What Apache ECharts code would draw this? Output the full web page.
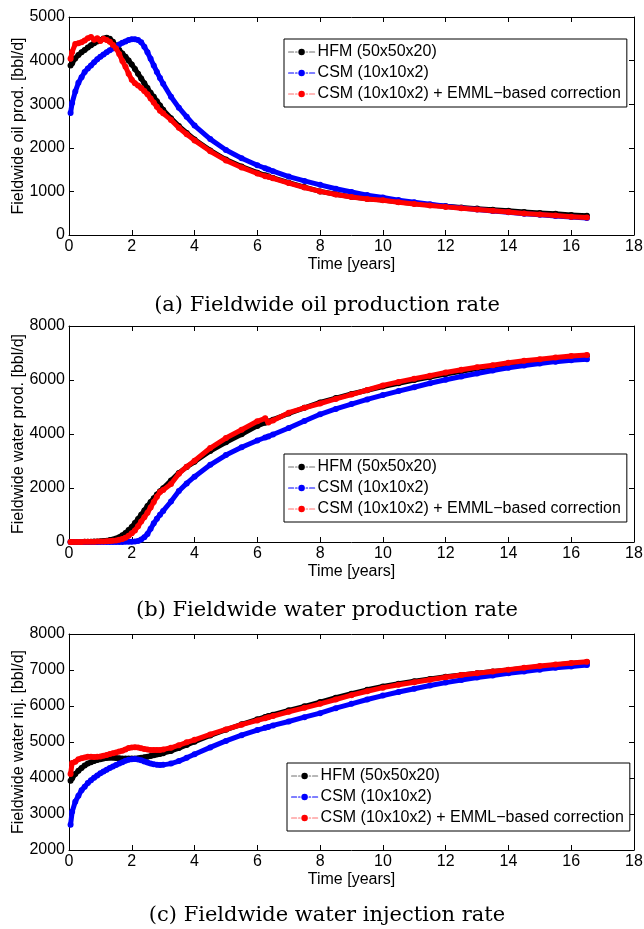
<!DOCTYPE html>
<html>
<head>
<meta charset="utf-8">
<title>Fieldwide rates</title>
<script src="https://cdn.jsdelivr.net/npm/echarts@6/dist/echarts.min.js"></script>
<style>
  html, body { margin: 0; padding: 0; background: #fff; }
  #chart { width: 644px; height: 929px; }
</style>
</head>
<body>
<div id="chart"></div>
<script>
// Simulation report times [years]
const years = [
  0.05, 0.1, 0.2, 0.3, 0.4, 0.5, 0.6, 0.7, 0.8, 0.9,
  1.0, 1.1, 1.2, 1.3, 1.4, 1.5, 1.6, 1.7, 1.8, 1.9,
  2.0, 2.1, 2.2, 2.3, 2.4, 2.5, 2.6, 2.7, 2.8, 2.9,
  3.0, 3.25, 3.5, 3.75, 4.0, 4.5, 5.0, 5.5, 6.0, 6.25,
  6.35, 6.5, 7.0, 7.5, 8.0, 8.5, 9.0, 9.5, 10.0, 10.5,
  11.0, 11.5, 12.0, 12.5, 13.0, 13.5, 14.0, 14.5, 15.0, 15.5,
  16.0, 16.5
];

const seriesNames = ['HFM (50x50x20)', 'CSM (10x10x2)', 'CSM (10x10x2) + EMML\u2212based correction'];

// (a) Fieldwide oil production rate [bbl/d]
const oilHFM = [
  3890, 3940, 4050, 4130, 4190, 4245, 4300, 4350, 4400, 4440,
  4475, 4505, 4525, 4500, 4430, 4340, 4245, 4160, 4090, 4000,
  3910, 3810, 3700, 3590, 3480, 3370, 3260, 3170, 3070, 2970,
  2870, 2680, 2500, 2340, 2190, 1940, 1730, 1570, 1430, 1370,
  1345, 1310, 1200, 1100, 1000, 935, 875, 830, 800, 755,
  720, 690, 660, 630, 605, 580, 555, 530, 505, 485,
  460, 440
];
const oilCSM = [
  2800, 3030, 3290, 3490, 3620, 3740, 3820, 3890, 3960, 4030,
  4090, 4140, 4190, 4240, 4280, 4320, 4370, 4410, 4440, 4470,
  4490, 4490, 4470, 4420, 4320, 4190, 4040, 3890, 3740, 3600,
  3470, 3170, 2920, 2710, 2510, 2200, 1950, 1760, 1600, 1530,
  1505, 1465, 1340, 1240, 1150, 1060, 985, 915, 860, 800,
  750, 705, 660, 620, 585, 550, 520, 490, 462, 438,
  412, 392
];
const oilCorr = [
  4040, 4200, 4380, 4400, 4420, 4460, 4510, 4540, 4480, 4510,
  4450, 4500, 4470, 4430, 4360, 4280, 4150, 3990, 3860, 3700,
  3560, 3480, 3430, 3370, 3300, 3230, 3130, 3040, 2940, 2850,
  2790, 2640, 2460, 2310, 2170, 1920, 1710, 1550, 1410, 1350,
  1335, 1300, 1190, 1090, 1000, 930, 870, 825, 795, 750,
  710, 675, 645, 615, 585, 555, 525, 495, 470, 445,
  420, 400
];

// (b) Fieldwide water production rate [bbl/d]
const wprodHFM = [
  0, 0, 0, 2, 4, 6, 8, 10, 14, 18,
  25, 35, 50, 70, 95, 130, 180, 250, 330, 440,
  560, 700, 850, 1010, 1170, 1330, 1480, 1620, 1760, 1880,
  1990, 2280, 2560, 2780, 2970, 3370, 3690, 3990, 4300, 4420,
  4460, 4530, 4760, 4970, 5170, 5330, 5480, 5620, 5760, 5880,
  6000, 6110, 6220, 6320, 6420, 6510, 6590, 6660, 6730, 6790,
  6850, 6900
];
const wprodCSM = [
  0, 0, 0, 0, 0, 0, 0, 0, 0, 0,
  0, 0, 0, 0, 0, 0, 2, 4, 6, 8,
  10, 15, 40, 90, 180, 300, 490, 690, 860, 1010,
  1150, 1500, 1890, 2170, 2420, 2860, 3220, 3510, 3760, 3870,
  3910, 3980, 4220, 4480, 4730, 4930, 5110, 5280, 5440, 5590,
  5730, 5880, 6010, 6130, 6240, 6350, 6450, 6540, 6610, 6680,
  6730, 6770
];
const wprodCorr = [
  0, 0, 0, 2, 4, 6, 8, 10, 12, 15,
  18, 22, 28, 35, 45, 60, 85, 115, 160, 230,
  320, 430, 580, 760, 920, 1080, 1280, 1480, 1680, 1850,
  1930, 2150, 2530, 2790, 3010, 3480, 3850, 4160, 4470, 4580,
  4430, 4500, 4790, 4970, 5130, 5300, 5460, 5630, 5800, 5930,
  6050, 6160, 6280, 6380, 6470, 6550, 6640, 6710, 6770, 6830,
  6890, 6930
];

// (c) Fieldwide water injection rate [bbl/d]
const winjHFM = [
  3925, 3990, 4110, 4200, 4280, 4350, 4400, 4440, 4470, 4500,
  4520, 4540, 4555, 4560, 4560, 4555, 4550, 4545, 4540, 4540,
  4540, 4545, 4550, 4560, 4575, 4590, 4610, 4630, 4650, 4670,
  4690, 4750, 4830, 4920, 5010, 5180, 5340, 5490, 5630, 5695,
  5720, 5760, 5880, 5990, 6110, 6230, 6340, 6450, 6540, 6620,
  6690, 6750, 6810, 6860, 6910, 6960, 7000, 7050, 7090, 7140,
  7180, 7215
];
const winjCSM = [
  2700, 3060, 3340, 3510, 3660, 3760, 3860, 3940, 4010, 4070,
  4130, 4180, 4230, 4280, 4320, 4360, 4400, 4440, 4480, 4505,
  4520, 4525, 4515, 4490, 4460, 4430, 4400, 4380, 4365, 4360,
  4365, 4400, 4470, 4560, 4660, 4850, 5030, 5190, 5330, 5395,
  5420, 5460, 5570, 5690, 5800, 5940, 6060, 6180, 6290, 6390,
  6480, 6570, 6650, 6720, 6790, 6850, 6910, 6960, 7010, 7060,
  7100, 7140
];
const winjCorr = [
  4110, 4420, 4450, 4520, 4550, 4570, 4590, 4590, 4585, 4590,
  4600, 4620, 4640, 4665, 4690, 4710, 4735, 4760, 4795, 4830,
  4850, 4855, 4845, 4825, 4805, 4790, 4780, 4775, 4775, 4780,
  4795, 4840, 4910, 4990, 5060, 5210, 5350, 5480, 5600, 5660,
  5685, 5720, 5840, 5950, 6060, 6180, 6300, 6410, 6510, 6590,
  6660, 6730, 6800, 6860, 6910, 6960, 7010, 7060, 7110, 7150,
  7195, 7230
];

const xTickMax = 18, xTickStep = 2;
const panels = [
  { yName: 'Fieldwide oil prod. [bbl/d]', yMin: 0, yMax: 5000, yStep: 1000,
    values: [oilHFM, oilCSM, oilCorr], caption: '(a) Fieldwide oil production rate' },
  { yName: 'Fieldwide water prod. [bbl/d]', yMin: 0, yMax: 8000, yStep: 2000,
    values: [wprodHFM, wprodCSM, wprodCorr], caption: '(b) Fieldwide water production rate' },
  { yName: 'Fieldwide water inj. [bbl/d]', yMin: 2000, yMax: 8000, yStep: 1000,
    values: [winjHFM, winjCSM, winjCorr], caption: '(c) Fieldwide water injection rate' }
];

// layout (pixels)
const SANS = '"Liberation Sans", Arial, Helvetica, sans-serif';
const SERIF = '"DejaVu Serif", "Liberation Serif", serif';
const gridBoxes = [
  { top: 17, height: 218, legendLeft: 284, legendTop: 39, captionY: 306 },
  { top: 326, height: 216, legendLeft: 284, legendTop: 454, captionY: 611 },
  { top: 634, height: 216, legendLeft: 287, legendTop: 763, captionY: 916 }
];
const seriesColors = ['#000000', '#0000ff', '#ff0000'];
const legendLineColors = ['#707070', '#0000ff', '#ff7070'];

const axisLineStyle = { show: true, onZero: false, lineStyle: { color: '#000', width: 1 } };
const tickStyle = { show: true, inside: true, length: 5, lineStyle: { color: '#000', width: 1 } };
const labelStyle = { color: '#000', fontSize: 16, fontFamily: SANS };
const plainNumber = v => String(v);

const grid = [], xAxis = [], yAxis = [], series = [], legend = [], graphic = [];

panels.forEach((p, i) => {
  const g = gridBoxes[i];
  grid.push({ left: 69, right: 10, top: g.top, height: g.height,
              containLabel: false, outerBoundsMode: 'none' });

  xAxis.push({
    gridIndex: i, type: 'value', position: 'bottom', min: 0, max: xTickMax, interval: xTickStep,
    axisLine: axisLineStyle, axisTick: tickStyle, splitLine: { show: false },
    axisLabel: Object.assign({ margin: 4, formatter: plainNumber }, labelStyle),
    name: 'Time [years]', nameLocation: 'middle', nameGap: 22, nameMoveOverlap: false,
    nameTextStyle: labelStyle
  });
  xAxis.push({
    gridIndex: i, type: 'value', position: 'top', min: 0, max: xTickMax, interval: xTickStep,
    axisLine: axisLineStyle, axisTick: tickStyle, splitLine: { show: false },
    axisLabel: { show: false }
  });
  yAxis.push({
    gridIndex: i, type: 'value', position: 'left', min: p.yMin, max: p.yMax, interval: p.yStep,
    axisLine: axisLineStyle, axisTick: tickStyle, splitLine: { show: false },
    axisLabel: Object.assign({ margin: 4, formatter: plainNumber }, labelStyle),
    name: p.yName, nameLocation: 'middle', nameGap: 42, nameMoveOverlap: false,
    nameTextStyle: labelStyle
  });
  yAxis.push({
    gridIndex: i, type: 'value', position: 'right', min: p.yMin, max: p.yMax, interval: p.yStep,
    axisLine: axisLineStyle, axisTick: tickStyle, splitLine: { show: false },
    axisLabel: { show: false }
  });

  p.values.forEach((vals, k) => {
    series.push({
      type: 'line', name: seriesNames[k],
      xAxisIndex: 2 * i, yAxisIndex: 2 * i,
      data: years.map((t, j) => [t, vals[j]]),
      symbol: 'circle', symbolSize: 6, showSymbol: true,
      lineStyle: { color: seriesColors[k], width: 5, cap: 'round', join: 'round' },
      itemStyle: { color: seriesColors[k] },
      emphasis: { disabled: true },
      animation: false, z: 2 + k
    });
  });

  legend.push({
    orient: 'vertical', left: g.legendLeft, top: g.legendTop,
    backgroundColor: '#fff', borderColor: '#000', borderWidth: 1, borderRadius: 0,
    padding: [5, 6, 5, 4], itemGap: 5, itemWidth: 26, itemHeight: 8,
    selectedMode: false,
    textStyle: { color: '#000', fontSize: 16, fontFamily: SANS, lineHeight: 16, padding: [0, 0, 0, -2] },
    data: seriesNames.map((n, k) => ({
      name: n,
      itemStyle: { color: seriesColors[k] },
      lineStyle: { color: legendLineColors[k], width: 1.2, type: [5, 2, 1.5, 2] }
    }))
  });

  graphic.push({
    type: 'text', x: 327, y: g.captionY, silent: true,
    style: { text: p.caption, font: '21px ' + SERIF, fill: '#000', align: 'center', verticalAlign: 'middle' }
  });
});

const chart = echarts.init(document.getElementById('chart'), null, { renderer: 'canvas' });
chart.setOption({
  backgroundColor: '#fff',
  animation: false,
  grid, xAxis, yAxis, series, legend, graphic
});
</script>
</body>
</html>
